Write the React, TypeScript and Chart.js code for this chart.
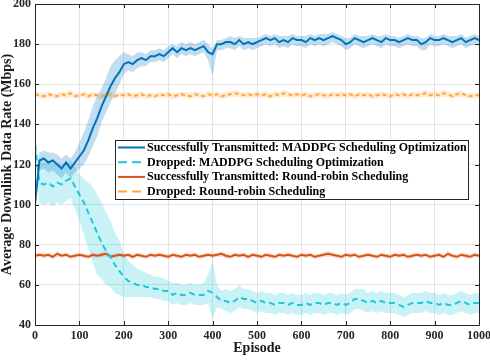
import React, { useEffect, useRef } from "react";
import { Chart, registerables } from "chart.js";

Chart.register(...registerables);

// Episodes sampled every 10 episodes (0..1000)
const EPISODES = Array.from({ length: 101 }, (_, i) => i * 10);
const X_TICKS = [0, 100, 200, 300, 400, 500, 600, 700, 800, 900, 1000];
const Y_TICKS = [40, 60, 80, 100, 120, 140, 160, 180, 200];

const X_TITLE = "Episode";
const Y_TITLE = "Average Downlink Data Rate (Mbps)";

const LABELS = [
  "Successfully Transmitted: MADDPG Scheduling Optimization",
  "Dropped: MADDPG Scheduling Optimization",
  "Successfully Transmitted: Round-robin Scheduling",
  "Dropped: Round-robin Scheduling",
];

// Successfully transmitted, MADDPG (mean, band offsets above / below)
const maddpgSent = [
  100, 122, 123, 121, 122, 120, 118, 121, 118, 121,
  124, 127, 132, 138, 143, 149, 154, 159, 163, 166,
  170, 171, 170, 172, 173, 172, 174, 174, 175, 174,
  176, 178, 176, 178, 177, 178, 177, 178, 179, 176,
  175, 180, 180, 181, 181, 180, 182, 180, 181, 180,
  181, 182, 183, 182, 183, 181, 182, 181, 183, 182,
  182, 181, 183, 182, 183, 182, 183, 184, 183, 182,
  180, 181, 183, 182, 181, 182, 183, 182, 181, 183,
  182, 182, 181, 182, 183, 182, 182, 180, 181, 183,
  182, 182, 183, 182, 181, 182, 183, 181, 182, 183, 182,
];
const maddpgSentUp = [
  4, 4, 4, 5, 4, 5, 5, 4, 5, 5,
  7, 9, 10, 11, 11, 9, 9, 10, 9, 8,
  6, 4, 4, 4, 3, 3, 3, 3, 3, 3,
  3, 2, 3, 3, 3, 3, 3, 3, 3, 4,
  3, 2, 2, 2, 3, 3, 2, 3, 2, 3,
  2, 2, 2, 2, 2, 3, 2, 3, 2, 2,
  2, 3, 2, 2, 2, 3, 2, 2, 2, 2,
  3, 2, 2, 2, 3, 2, 2, 2, 3, 2,
  2, 2, 2, 2, 2, 2, 2, 3, 2, 2,
  2, 2, 2, 2, 3, 2, 2, 2, 2, 2, 2,
];
const maddpgSentDown = [
  4, 5, 5, 5, 5, 5, 5, 5, 5, 5,
  6, 7, 8, 9, 9, 8, 8, 8, 8, 6,
  5, 4, 4, 4, 4, 3, 3, 3, 3, 3,
  3, 3, 3, 3, 3, 3, 3, 3, 3, 4,
  11, 3, 3, 3, 3, 3, 3, 3, 3, 3,
  3, 3, 3, 3, 3, 3, 3, 3, 3, 3,
  3, 3, 3, 3, 3, 3, 3, 3, 3, 3,
  3, 3, 3, 3, 3, 3, 3, 3, 3, 3,
  3, 3, 3, 3, 3, 3, 3, 3, 4, 3,
  3, 3, 3, 3, 3, 3, 3, 3, 3, 3, 3,
];

// Dropped, MADDPG
const maddpgDrop = [
  130, 111, 110, 111, 109, 111, 110, 112, 113, 109,
  105, 101, 96, 91, 86, 81, 77, 74, 70, 67,
  64, 62, 61, 60, 60, 59, 59, 58, 58, 57,
  57, 55, 56, 55, 55, 56, 55, 55, 55, 57,
  56, 54, 52, 52, 51, 52, 54, 53, 53, 52,
  51, 52, 51, 51, 50, 51, 51, 50, 51, 50,
  50, 51, 50, 51, 51, 50, 51, 51, 50, 51,
  50, 51, 53, 53, 52, 51, 52, 51, 52, 51,
  51, 51, 50, 49, 50, 51, 51, 51, 52, 51,
  51, 50, 51, 50, 50, 51, 52, 51, 50, 51, 51,
];
const maddpgDropUp = [
  3, 10, 11, 11, 11, 10, 10, 9, 9, 10,
  10, 12, 15, 18, 19, 20, 19, 18, 16, 15,
  12, 10, 9, 8, 7, 7, 6, 6, 6, 6,
  5, 6, 5, 5, 5, 5, 5, 5, 6, 8,
  16, 6, 5, 6, 6, 6, 6, 5, 5, 5,
  5, 5, 5, 5, 5, 5, 5, 5, 5, 5,
  5, 5, 5, 5, 5, 5, 5, 5, 5, 5,
  5, 5, 5, 5, 6, 5, 5, 5, 5, 5,
  5, 5, 5, 5, 5, 5, 5, 5, 5, 5,
  5, 5, 5, 5, 5, 5, 5, 5, 5, 5, 5,
];
const maddpgDropDown = [
  3, 10, 10, 10, 10, 10, 10, 10, 10, 11,
  13, 16, 18, 20, 21, 18, 17, 15, 14, 12,
  10, 8, 7, 6, 6, 5, 5, 5, 5, 5,
  5, 5, 5, 5, 5, 5, 5, 5, 5, 6,
  13, 5, 4, 5, 5, 5, 5, 5, 5, 5,
  5, 5, 5, 5, 5, 5, 5, 5, 5, 5,
  5, 5, 5, 5, 5, 5, 5, 5, 5, 5,
  5, 5, 5, 5, 5, 5, 5, 5, 5, 5,
  5, 5, 5, 5, 5, 5, 5, 5, 5, 5,
  5, 5, 5, 5, 5, 5, 5, 5, 5, 5, 5,
];

// Successfully transmitted, Round-robin
const rrSent = [
  74.5, 75, 74.5, 75, 74, 75.5, 74.5, 75, 74, 74.5,
  75, 74.5, 74, 75, 74.5, 75, 75.5, 74, 74.5, 75,
  74.5, 75, 74, 75, 74.5, 74, 75, 74.5, 75, 74.5,
  74, 75, 74.5, 74, 75, 74.5, 75, 74, 74.5, 75,
  74.5, 75, 75.5, 74.5, 74, 75, 74.5, 75, 74, 75,
  74.5, 74, 75, 74.5, 74, 75, 74.5, 75, 74.5, 74,
  75, 74.5, 75, 74, 74.5, 75, 75.5, 75, 74.5, 74,
  75, 74.5, 75, 74, 74.5, 75, 74.5, 74, 75, 74.5,
  74, 75, 74.5, 75, 74, 74.5, 75, 74.5, 75, 74,
  74.5, 75, 74, 75.5, 74.5, 74, 75, 74.5, 74, 75, 74.5,
];
const rrSentSpread = [
  1.2, 1, 1.3, 1, 1.2, 1.5, 1, 1.2, 1, 1.2,
  1, 1.2, 1, 1.3, 1, 1.5, 1.4, 1, 1.2, 1,
  1.2, 1, 1.3, 1, 1.2, 1, 1.2, 1, 1.3, 1,
  1.2, 1, 1.2, 1, 1.3, 1, 1.2, 1, 1.2, 1,
  1.2, 1, 1.4, 1.2, 1, 1.3, 1, 1.2, 1, 1.2,
  1, 1.2, 1, 1.3, 1, 1.2, 1, 1.2, 1, 1.2,
  1, 1.2, 1, 1.2, 1, 1.3, 1.4, 1.2, 1, 1.2,
  1, 1.2, 1, 1.3, 1, 1.2, 1, 1.2, 1, 1.2,
  1, 1.2, 1, 1.2, 1, 1.3, 1, 1.2, 1, 1.2,
  1, 1.2, 1, 1.4, 1, 1.2, 1, 1.2, 1, 1.2, 1,
];

// Dropped, Round-robin
const rrDrop = [
  155, 154.5, 154, 155, 154.5, 154, 155, 154.5, 155.5, 154,
  154.5, 155, 154, 155, 154.5, 154, 154.5, 155, 154, 155,
  154.5, 155, 154, 154.5, 155, 154, 154.5, 154, 155, 154.5,
  155, 154, 154.5, 155, 154.5, 154, 155, 154.5, 154, 155,
  154.5, 155, 154, 154.5, 155, 155.5, 155, 154.5, 155, 154.5,
  155, 154.5, 155, 154, 155, 154.5, 155.5, 155, 154.5, 155,
  154.5, 155, 154, 154.5, 155, 154.5, 154, 155, 154.5, 155,
  154.5, 155, 154, 155, 154.5, 155, 154, 154.5, 155, 154.5,
  154, 155, 154.5, 155, 154, 155, 154.5, 155, 155.5, 154.5,
  155, 154.5, 155.5, 155, 154, 155, 155.5, 154.5, 154, 154.5, 154.5,
];
const rrDropSpread = [
  1.5, 1.3, 1.5, 1.6, 1.3, 1.5, 1.4, 1.5, 1.7, 1.3,
  1.5, 1.4, 1.5, 1.3, 1.5, 1.6, 1.4, 1.5, 1.3, 1.5,
  1.4, 1.5, 1.3, 1.5, 1.6, 1.4, 1.5, 1.3, 1.5, 1.4,
  1.5, 1.3, 1.5, 1.4, 1.5, 1.6, 1.4, 1.5, 1.3, 1.5,
  1.4, 1.5, 1.3, 1.5, 1.4, 1.7, 1.5, 1.4, 1.5, 1.3,
  1.5, 1.4, 1.5, 1.3, 1.5, 1.4, 1.7, 1.5, 1.4, 1.5,
  1.3, 1.5, 1.4, 1.5, 1.3, 1.5, 1.4, 1.5, 1.3, 1.5,
  1.4, 1.5, 1.3, 1.5, 1.4, 1.5, 1.3, 1.5, 1.4, 1.5,
  1.3, 1.5, 1.4, 1.5, 1.3, 1.5, 1.4, 1.5, 1.7, 1.4,
  1.5, 1.4, 1.7, 1.5, 1.3, 1.5, 1.6, 1.4, 1.5, 1.4, 1.5,
];

const COLORS = {
  blue: "#0072BD",
  blueBand: "rgba(0,114,189,0.24)",
  cyan: "#1DC8DC",
  cyanBand: "rgba(40,205,225,0.25)",
  red: "#D95319",
  redBand: "rgba(217,83,25,0.2)",
  orange: "#FFA53D",
  orangeBand: "rgba(255,165,61,0.22)",
};

const FONT = '"Liberation Serif", "Times New Roman", serif';
const AXIS_COLOR = "#262626";

const pts = (ys: number[]) => ys.map((y, i) => ({ x: EPISODES[i], y }));
const shift = (ys: number[], d: number[], sign: number) =>
  ys.map((y, i) => ({ x: EPISODES[i], y: y + sign * d[i] }));

const LEGEND = [
  { label: LABELS[0], color: COLORS.blue, dash: [] as number[] },
  { label: LABELS[1], color: COLORS.cyan, dash: [9, 5] },
  { label: LABELS[2], color: COLORS.red, dash: [] as number[] },
  { label: LABELS[3], color: COLORS.orange, dash: [9, 5] },
];

const framePlugin = {
  id: "matlabFrame",
  afterDatasetsDraw(chart: any) {
    const { ctx, chartArea, scales } = chart;
    const { left, right, top, bottom } = chartArea;
    ctx.save();
    ctx.strokeStyle = AXIS_COLOR;
    ctx.lineWidth = 1;
    ctx.beginPath();
    ctx.rect(Math.round(left) + 0.5, Math.round(top) + 0.5, Math.round(right - left), Math.round(bottom - top));
    ctx.stroke();
    const len = 4;
    ctx.beginPath();
    X_TICKS.forEach((v) => {
      const x = Math.round(scales.x.getPixelForValue(v)) + 0.5;
      ctx.moveTo(x, bottom);
      ctx.lineTo(x, bottom - len);
      ctx.moveTo(x, top);
      ctx.lineTo(x, top + len);
    });
    Y_TICKS.forEach((v) => {
      const y = Math.round(scales.y.getPixelForValue(v)) + 0.5;
      ctx.moveTo(left, y);
      ctx.lineTo(left + len, y);
      ctx.moveTo(right, y);
      ctx.lineTo(right - len, y);
    });
    ctx.stroke();
    ctx.restore();
  },
};

const legendPlugin = {
  id: "matlabLegend",
  afterDraw(chart: any) {
    const { ctx, chartArea } = chart;
    const x0 = Math.round(chartArea.left + 80);
    const y0 = Math.round(chartArea.top + 136);
    const w = 353;
    const h = 59;
    ctx.save();
    ctx.fillStyle = "#ffffff";
    ctx.fillRect(x0, y0, w, h);
    ctx.strokeStyle = AXIS_COLOR;
    ctx.lineWidth = 1;
    ctx.strokeRect(x0 + 0.5, y0 + 0.5, w, h);
    ctx.font = `bold 12px ${FONT}`;
    ctx.textBaseline = "middle";
    ctx.textAlign = "left";
    LEGEND.forEach((item, i) => {
      const cy = y0 + 7.5 + i * 14.7;
      ctx.beginPath();
      ctx.setLineDash(item.dash);
      ctx.strokeStyle = item.color;
      ctx.lineWidth = 2;
      ctx.moveTo(x0 + 3, cy);
      ctx.lineTo(x0 + 30, cy);
      ctx.stroke();
      ctx.setLineDash([]);
      ctx.fillStyle = "#000000";
      ctx.fillText(item.label, x0 + 32, cy + 0.5);
    });
    ctx.restore();
  },
};

export default function App() {
  const canvasRef = useRef<HTMLCanvasElement | null>(null);

  useEffect(() => {
    if (!canvasRef.current) return;
    const band = (data: any[], fill: any, color: string) => ({
      data,
      borderWidth: 0,
      pointRadius: 0,
      backgroundColor: color,
      fill,
      order: 10,
      tension: 0,
    });
    const line = (data: any[], color: string, dash: number[], order: number) => ({
      data,
      borderColor: color,
      borderWidth: 2,
      borderDash: dash,
      pointRadius: 0,
      fill: false,
      order,
      tension: 0,
    });

    const chart = new Chart(canvasRef.current, {
      type: "line",
      data: {
        datasets: [
          band(shift(maddpgSent, maddpgSentUp, 1), "+1", COLORS.blueBand),
          band(shift(maddpgSent, maddpgSentDown, -1), false, COLORS.blueBand),
          band(shift(maddpgDrop, maddpgDropUp, 1), "+1", COLORS.cyanBand),
          band(shift(maddpgDrop, maddpgDropDown, -1), false, COLORS.cyanBand),
          band(shift(rrSent, rrSentSpread, 1), "+1", COLORS.redBand),
          band(shift(rrSent, rrSentSpread, -1), false, COLORS.redBand),
          band(shift(rrDrop, rrDropSpread, 1), "+1", COLORS.orangeBand),
          band(shift(rrDrop, rrDropSpread, -1), false, COLORS.orangeBand),
          { label: LABELS[3], ...line(pts(rrDrop), COLORS.orange, [4, 3], 4) },
          { label: LABELS[2], ...line(pts(rrSent), COLORS.red, [], 3) },
          { label: LABELS[1], ...line(pts(maddpgDrop), COLORS.cyan, [6, 4], 2) },
          { label: LABELS[0], ...line(pts(maddpgSent), COLORS.blue, [], 1) },
        ] as any,
      },
      options: {
        animation: false,
        responsive: false,
        events: [],
        layout: { padding: { top: 4, right: 11, left: 0, bottom: 0 } },
        plugins: {
          legend: { display: false },
          tooltip: { enabled: false },
          title: { display: false },
        },
        scales: {
          x: {
            type: "linear",
            min: 0,
            max: 1000,
            afterBuildTicks: (s: any) => {
              s.ticks = X_TICKS.map((v) => ({ value: v }));
            },
            afterFit: (s: any) => {
              s.height = 36;
              s.paddingLeft = 0;
              s.paddingRight = 0;
            },
            ticks: {
              autoSkip: false,
              maxRotation: 0,
              padding: 4,
              color: AXIS_COLOR,
              font: { family: FONT, size: 12, weight: "bold" },
              callback: (v: any) => String(v),
            },
            grid: { color: "#e4e4e4", lineWidth: 1, drawTicks: false },
            border: { display: false },
            title: {
              display: true,
              text: X_TITLE,
              color: "#1a1a1a",
              font: { family: FONT, size: 14, weight: "bold" },
              padding: { top: 0, bottom: 4 },
            },
          },
          y: {
            type: "linear",
            min: 40,
            max: 200,
            afterBuildTicks: (s: any) => {
              s.ticks = Y_TICKS.map((v) => ({ value: v }));
            },
            afterFit: (s: any) => {
              s.width = 35;
              s.paddingTop = 0;
              s.paddingBottom = 0;
            },
            ticks: {
              padding: 4,
              color: AXIS_COLOR,
              font: { family: FONT, size: 12, weight: "bold" },
              callback: (v: any) => String(v),
            },
            grid: { color: "#e4e4e4", lineWidth: 1, drawTicks: false },
            border: { display: false },
            title: {
              display: true,
              text: Y_TITLE,
              color: "#1a1a1a",
              font: { family: FONT, size: 14, weight: "bold" },
              padding: { top: -1, bottom: 0 },
            },
          },
        },
      } as any,
      plugins: [framePlugin, legendPlugin],
    });
    return () => chart.destroy();
  }, []);

  return (
    <div style={{ position: "absolute", left: 0, top: 0, width: 490, height: 361, background: "#fff" }}>
      <canvas ref={canvasRef} width={490} height={361} style={{ display: "block" }} />
    </div>
  );
}
